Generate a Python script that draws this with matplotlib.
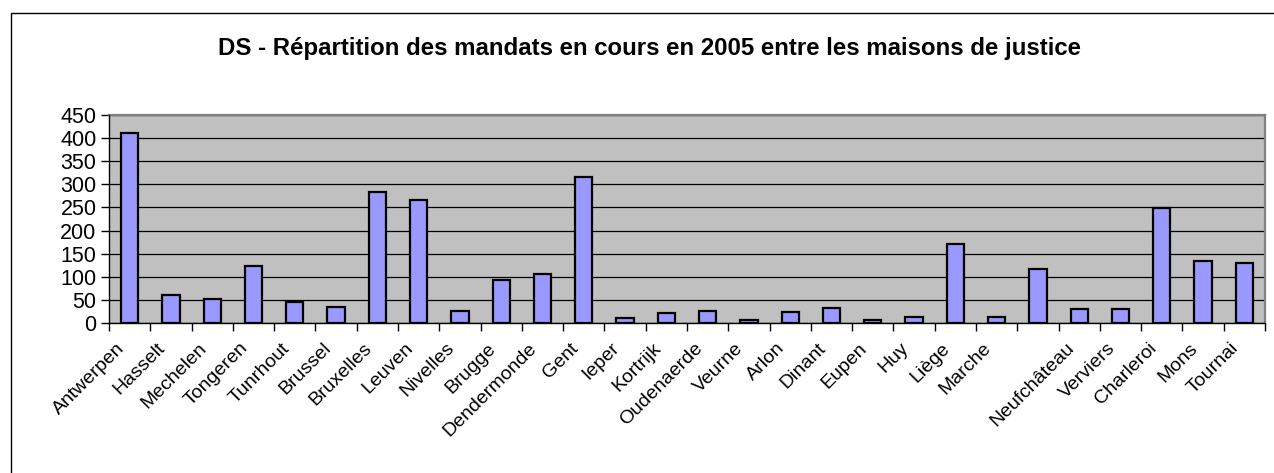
"""
DS - mandats en cours en 2005 par maison de justice (bar chart, Excel style).
"""

import matplotlib
matplotlib.use("Agg")
import matplotlib.pyplot as plt
import matplotlib.transforms as mtransforms
from matplotlib.patches import Rectangle
import numpy as np

plt.rcParams["font.family"] = ["Liberation Sans", "DejaVu Sans"]

TITLE = "DS - Répartition des mandats en cours en 2005 entre les maisons de justice"

maisons = [
    "Antwerpen", "Hasselt", "Mechelen", "Tongeren", "Tunrhout", "Brussel",
    "Bruxelles", "Leuven", "Nivelles", "Brugge", "Dendermonde", "Gent",
    "Ieper", "Kortrijk", "Oudenaerde", "Veurne", "Arlon", "Dinant", "Eupen",
    "Huy", "Liège", "Marche", "", "Neufchâteau", "Verviers", "Charleroi",
    "Mons", "Tournai",
]
mandats = [
    410, 60, 52, 123, 45, 35,
    283, 267, 27, 94, 105, 316,
    11, 22, 27, 7, 23, 32, 6,
    12, 171, 12, 117, 30, 30, 249,
    134, 130,
]
y_ticks = [0, 50, 100, 150, 200, 250, 300, 350, 400, 450]

W, H = 1274, 473
fig = plt.figure(figsize=(W / 100, H / 100), dpi=100)
fig.patch.set_facecolor("white")

# outer chart frame
fig.patches.append(Rectangle((11 / W, -0.05), 1.5, 1 - 13 / H + 0.05,
                             transform=fig.transFigure, fill=False,
                             edgecolor="black", linewidth=1.0))

ax = fig.add_axes([109 / W, 1 - 323 / H, (1265 - 109) / W, (323 - 115) / H])
ax.set_facecolor("#c0c0c0")

x = np.arange(len(maisons))
ax.bar(x, mandats, width=0.42, color="#9999ff", edgecolor="black",
       linewidth=1.6, zorder=3)

ax.set_xlim(-0.5, len(maisons) - 0.5)
ax.set_ylim(0, 450)
ax.set_yticks(y_ticks)
ax.set_yticklabels([str(t) for t in y_ticks], fontsize=15.5)
ax.grid(True, axis="y", color="black", linewidth=0.9, zorder=1)

ax.set_xticks(x)
ax.set_xticklabels(maisons, rotation=45, ha="right", rotation_mode="anchor",
                   fontsize=14)
ax.set_xticks(np.arange(len(maisons) + 1) - 0.5, minor=True)
ax.tick_params(axis="x", which="major", length=0, pad=12)
ax.tick_params(axis="x", which="minor", length=6, width=1, color="black")
ax.tick_params(axis="y", length=6, width=1, color="black", pad=3)

# nudge the slanted labels to the left, like Excel does
shift = mtransforms.ScaledTranslation(-14 / 100, 0, fig.dpi_scale_trans)
for lbl in ax.get_xticklabels():
    lbl.set_transform(lbl.get_transform() + shift)

for side in ("top", "right"):
    ax.spines[side].set_color("#808080")
    ax.spines[side].set_linewidth(1.6)
for side in ("left", "bottom"):
    ax.spines[side].set_color("black")
    ax.spines[side].set_linewidth(1.0)
    ax.spines[side].set_zorder(4)

fig.text(650 / W, 1 - 48 / H, TITLE, ha="center", va="center",
         fontsize=17.3, fontweight="bold")

fig.savefig("out.png", dpi=100, facecolor=fig.get_facecolor())
